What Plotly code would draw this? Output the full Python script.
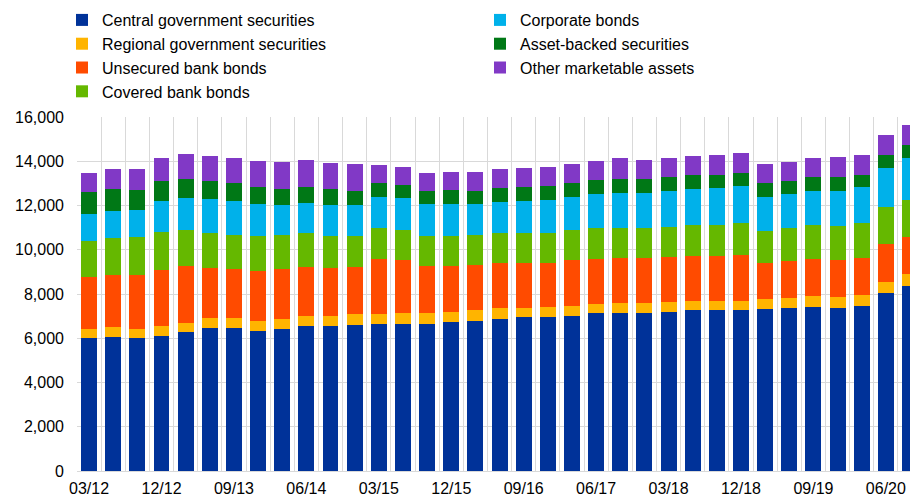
import plotly.graph_objects as go

quarters = ["03/12", "06/12", "09/12", "12/12", "03/13", "06/13", "09/13", "12/13",
            "03/14", "06/14", "09/14", "12/14", "03/15", "06/15", "09/15", "12/15",
            "03/16", "06/16", "09/16", "12/16", "03/17", "06/17", "09/17", "12/17",
            "03/18", "06/18", "09/18", "12/18", "03/19", "06/19", "09/19", "12/19",
            "03/20", "06/20", "09/20"]

central_gov = [5990, 6060, 5990, 6105, 6275, 6455, 6455, 6350, 6440, 6560,
               6560, 6605, 6650, 6665, 6665, 6725, 6800, 6890, 6950, 6950, 7025, 7120,
               7120, 7120, 7195, 7255, 7255, 7255, 7300, 7345, 7420, 7375, 7480, 8025, 8340]
regional_gov = [435, 455, 435, 455, 425, 440, 440, 435, 435, 435,
                450, 470, 455, 455, 455, 455, 455, 455, 420, 450, 440, 435,
                465, 465, 435, 440, 440, 440, 480, 465, 470, 470, 465, 510, 545]
unsecured = [2335, 2335, 2430, 2520, 2550, 2260, 2215, 2275, 2260, 2245,
             2170, 2125, 2475, 2395, 2125, 2065, 2035, 2035, 2050, 1990, 2050, 2035,
             2020, 2020, 2035, 2005, 2005, 2050, 1600, 1660, 1675, 1705, 1690, 1705, 1690]
covered = [1615, 1660, 1720, 1705, 1630, 1600, 1570, 1540, 1510, 1495,
           1460, 1400, 1385, 1375, 1355, 1370, 1355, 1355, 1355, 1370, 1375, 1385,
           1370, 1370, 1375, 1405, 1420, 1460, 1480, 1510, 1540, 1540, 1555, 1690, 1690]
corporate = [1250, 1250, 1235, 1435, 1460, 1555, 1540, 1465, 1390, 1400,
             1390, 1405, 1420, 1445, 1450, 1450, 1420, 1430, 1450, 1495, 1495, 1525,
             1600, 1600, 1630, 1660, 1675, 1675, 1540, 1540, 1570, 1585, 1630, 1780, 1885]
abs_sec = [965, 965, 890, 875, 860, 800, 800, 755, 725, 680,
           695, 665, 635, 605, 620, 620, 605, 605, 605, 605, 620, 635,
           605, 605, 605, 605, 605, 605, 605, 590, 605, 605, 575, 560, 575]
other = [875, 920, 950, 1040, 1145, 1145, 1130, 1175, 1220, 1235,
         1190, 1190, 830, 815, 815, 845, 845, 875, 860, 860, 875, 890,
         965, 875, 890, 875, 890, 875, 875, 875, 860, 890, 905, 935, 935]

series = [
    ("Central government securities", central_gov, "#003299", "legend"),
    ("Regional government securities", regional_gov, "#FFB400", "legend"),
    ("Unsecured bank bonds", unsecured, "#FF4B00", "legend"),
    ("Covered bank bonds", covered, "#65B800", "legend"),
    ("Corporate bonds", corporate, "#00B1EA", "legend2"),
    ("Asset-backed securities", abs_sec, "#007816", "legend2"),
    ("Other marketable assets", other, "#8139C6", "legend2"),
]

x = list(range(len(quarters)))
tick_idx = list(range(0, len(quarters), 3))

fig = go.Figure()
for name, vals, color, lg in series:
    fig.add_trace(go.Bar(x=x, y=vals, name=name, marker=dict(color=color, line=dict(width=0)),
                         legend=lg))

FONT = "Liberation Sans, Arial, sans-serif"
grid = "#d9d9d9"

fig.update_layout(
    barmode="stack",
    bargap=0.34,
    width=910, height=497,
    margin=dict(l=77, r=0, t=117, b=26),
    paper_bgcolor="white", plot_bgcolor="white",
    font=dict(family=FONT, size=16, color="#000000"),
    legend=dict(x=-0.018, xanchor="left", y=1.322, yanchor="top",
                font=dict(family=FONT, size=16, color="#000000"),
                bgcolor="rgba(0,0,0,0)", traceorder="normal"),
    legend2=dict(x=0.4838, xanchor="left", y=1.322, yanchor="top",
                 font=dict(family=FONT, size=16, color="#000000"),
                 bgcolor="rgba(0,0,0,0)", traceorder="normal"),
    xaxis=dict(range=[-0.5, 34.0], tickmode="array", tickvals=tick_idx,
               ticktext=[quarters[i] for i in tick_idx], showgrid=False,
               zeroline=False, showline=True, linecolor=grid, linewidth=1,
               ticks="", ticklabelstandoff=3, automargin=False,
               tickfont=dict(size=16, family=FONT),
               minor=dict(tickmode="array", tickvals=[i - 0.5 for i in range(len(quarters) + 1)],
                          showgrid=True, gridcolor=grid, gridwidth=1, ticks="")),
    yaxis=dict(range=[0, 16000], tickmode="array", tickvals=list(range(0, 16001, 2000)),
               tickformat=",d", showgrid=True, gridcolor=grid, gridwidth=1,
               zeroline=False, showline=False, ticks="", ticklabelstandoff=12,
               automargin=False, tickfont=dict(size=16, family=FONT)),
)

fig.write_html("out.html", config={"displayModeBar": False},
               post_script="document.body.style.margin='0px';document.body.style.overflow='hidden';")
